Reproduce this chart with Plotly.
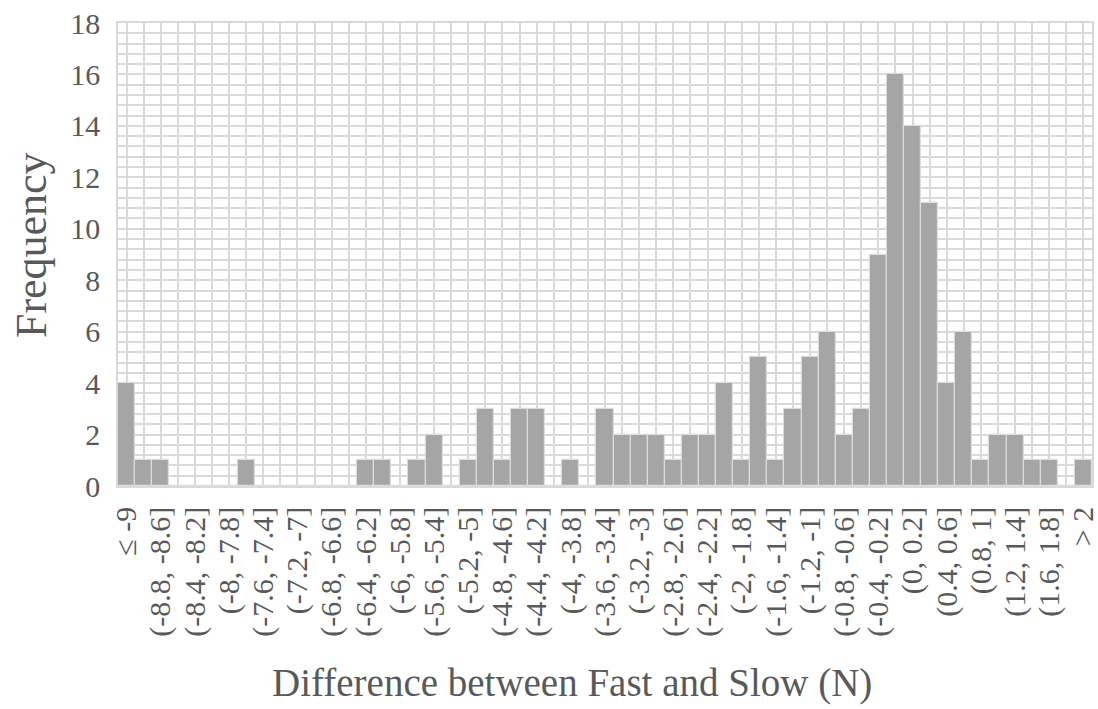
import plotly.graph_objects as go

categories = [
    "≤ -9",
    "(-9, -8.8]", "(-8.8, -8.6]", "(-8.6, -8.4]", "(-8.4, -8.2]", "(-8.2, -8]",
    "(-8, -7.8]", "(-7.8, -7.6]", "(-7.6, -7.4]", "(-7.4, -7.2]", "(-7.2, -7]",
    "(-7, -6.8]", "(-6.8, -6.6]", "(-6.6, -6.4]", "(-6.4, -6.2]", "(-6.2, -6]",
    "(-6, -5.8]", "(-5.8, -5.6]", "(-5.6, -5.4]", "(-5.4, -5.2]", "(-5.2, -5]",
    "(-5, -4.8]", "(-4.8, -4.6]", "(-4.6, -4.4]", "(-4.4, -4.2]", "(-4.2, -4]",
    "(-4, -3.8]", "(-3.8, -3.6]", "(-3.6, -3.4]", "(-3.4, -3.2]", "(-3.2, -3]",
    "(-3, -2.8]", "(-2.8, -2.6]", "(-2.6, -2.4]", "(-2.4, -2.2]", "(-2.2, -2]",
    "(-2, -1.8]", "(-1.8, -1.6]", "(-1.6, -1.4]", "(-1.4, -1.2]", "(-1.2, -1]",
    "(-1, -0.8]", "(-0.8, -0.6]", "(-0.6, -0.4]", "(-0.4, -0.2]", "(-0.2, 0]",
    "(0, 0.2]", "(0.2, 0.4]", "(0.4, 0.6]", "(0.6, 0.8]", "(0.8, 1]",
    "(1, 1.2]", "(1.2, 1.4]", "(1.4, 1.6]", "(1.6, 1.8]", "(1.8, 2]",
    "> 2",
]

frequency = [
    4,
    1, 1, 0, 0, 0,
    0, 1, 0, 0, 0,
    0, 0, 0, 1, 1,
    0, 1, 2, 0, 1,
    3, 1, 3, 3, 0,
    1, 0, 3, 2, 2,
    2, 1, 2, 2, 4,
    1, 5, 1, 3, 5,
    6, 2, 3, 9, 16,
    14, 11, 4, 6, 1,
    2, 2, 1, 1, 0,
    1,
]

# every other category label is shown, as in the reference
shown_labels = [c if i % 2 == 0 else "" for i, c in enumerate(categories)]

y_ticks = [0, 2, 4, 6, 8, 10, 12, 14, 16, 18]

FONT = "Liberation Serif"
TXT = "#595959"
GRID = "#d9d9d9"

fig = go.Figure()
fig.add_trace(go.Bar(
    x=categories,
    y=frequency,
    marker=dict(color="#a5a5a5", line=dict(color="#dcdcdc", width=1.2)),
    showlegend=False,
))

fig.update_layout(
    width=1098,
    height=709,
    margin=dict(l=118, r=6, t=23, b=223, autoexpand=False),
    paper_bgcolor="white",
    plot_bgcolor="white",
    bargap=0,
    font=dict(family=FONT, color=TXT),
    xaxis=dict(
        type="category",
        categoryorder="array",
        categoryarray=categories,
        tickmode="array",
        tickvals=categories,
        ticktext=shown_labels,
        tickangle=-90,
        tickfont=dict(family=FONT, size=30, color=TXT),
        showgrid=True,
        gridcolor=GRID,
        gridwidth=1.5,
        showline=True,
        linecolor=GRID,
        linewidth=1.5,
        mirror=True,
        ticks="",
        ticklabelstandoff=7,
        range=[-0.5, len(categories) - 0.5],
        automargin=False,
        fixedrange=True,
    ),
    yaxis=dict(
        range=[0, 18],
        tickmode="array",
        tickvals=y_ticks,
        tickfont=dict(family=FONT, size=30, color=TXT),
        showgrid=True,
        gridcolor=GRID,
        gridwidth=1.5,
        minor=dict(dtick=0.4, tick0=0, showgrid=True, gridcolor=GRID, gridwidth=1.5),
        showline=True,
        linecolor=GRID,
        linewidth=1.5,
        mirror=True,
        zeroline=False,
        ticks="",
        ticklabelstandoff=10,
        automargin=False,
        fixedrange=True,
    ),
    annotations=[
        dict(
            text="Difference between Fast and Slow (N)",
            xref="paper", yref="paper",
            x=0.466, y=-0.426,
            xanchor="center", yanchor="middle",
            showarrow=False,
            font=dict(family=FONT, size=39, color=TXT),
        ),
        dict(
            text="Frequency",
            xref="paper", yref="paper",
            x=-0.089, y=0.521,
            xanchor="center", yanchor="middle",
            textangle=-90,
            showarrow=False,
            font=dict(family=FONT, size=44, color=TXT),
        ),
    ],
)

fig.write_html("out.html")
